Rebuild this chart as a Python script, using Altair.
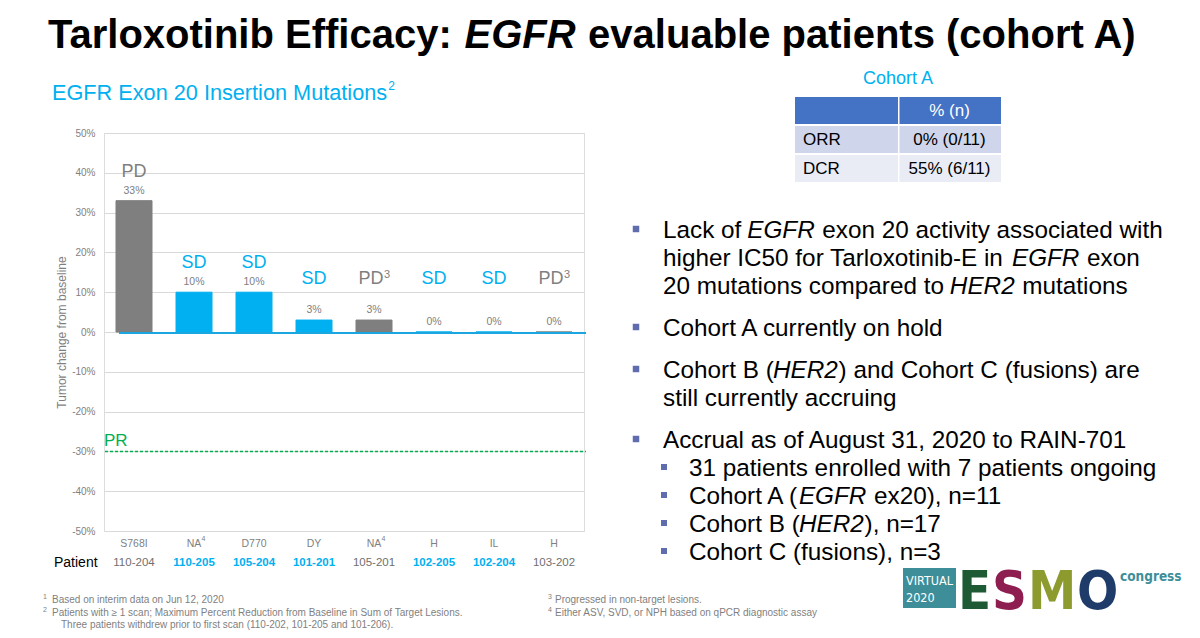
import altair as alt
import pandas as pd

# ---------------- chart data ----------------
mutations = ["S768I", "NA", "D770", "DY", "NA", "H", "IL", "H"]
mutation_notes = ["", "4", "", "", "4", "", "", ""]
patients = ["110-204", "110-205", "105-204", "101-201", "105-201", "102-205", "102-204", "103-202"]
tumor_change = [33, 10, 10, 3, 3, 0, 0, 0]
responses = ["PD", "SD", "SD", "SD", "PD", "SD", "SD", "PD"]
response_notes = ["", "", "", "", "3", "", "", "3"]
pr_threshold = [-30]
baseline_value = [0]
y_ticks = [-50, -40, -30, -20, -10, 0, 10, 20, 30, 40, 50]

# ---------------- slide text ----------------
title_text = "Tarloxotinib Efficacy: *EGFR* evaluable patients (cohort A)"
subtitle_text = "EGFR Exon 20 Insertion Mutations"
subtitle_note = "2"
y_title = "Tumor change from baseline"
x_row_label = "Patient"
pr_label = "PR"

table_title = "Cohort A"
table_header = "% (n)"
table_metrics = ["ORR", "DCR"]
table_values = ["0% (0/11)", "55% (6/11)"]

bullet_items = [
    (0, ["Lack of *EGFR* exon 20 activity associated with",
         "higher IC50 for Tarloxotinib-E in *EGFR* exon",
         "20 mutations compared to *HER2* mutations"]),
    (0, ["Cohort A currently on hold"]),
    (0, ["Cohort B (*HER2*) and Cohort C (fusions) are",
         "still currently accruing"]),
    (0, ["Accrual as of August 31, 2020 to RAIN-701"]),
    (1, ["31 patients enrolled with 7 patients ongoing"]),
    (1, ["Cohort A (*EGFR* ex20), n=11"]),
    (1, ["Cohort B (*HER2*), n=17"]),
    (1, ["Cohort C (fusions), n=3"]),
]

footnotes_left = [
    ("1", "Based on interim data on Jun 12, 2020"),
    ("2", "Patients with \u2265 1 scan; Maximum Percent Reduction from Baseline in Sum of Target Lesions."),
    ("", "Three patients withdrew prior to first scan (110-202, 101-205 and 101-206)."),
]
footnotes_right = [
    ("3", "Progressed in non-target lesions."),
    ("4", "Either ASV, SVD, or NPH based on qPCR diagnostic assay"),
]
logo_box_lines = ["VIRTUAL", "2020"]
logo_letters = ["E", "S", "M", "O"]
logo_word = "congress"

# ---------------- styling ----------------
FONT = "Liberation Sans, Arial, sans-serif"
COND = "DejaVu Sans Condensed, DejaVu Sans, sans-serif"
CYAN = "#00B0F0"
GRAY = "#7F7F7F"
GREEN = "#00B050"
BULLET = "#5F6DAE"
TEAL = "#3E8E9A"
LOGO_COLORS = ["#1E5B35", "#8E1D50", "#8C9A2E", "#1F3B6A"]

PAGE_MARGIN = 8
X0, Y0 = 104, 133          # plot origin in page pixels
W, H = 480, 398            # plot area
TOTAL_W, TOTAL_H = 1184, 622

# Helvetica / Arial advance widths (per 1000 em)
_CHARS = " !\"#$%&'()*+,-./0123456789:;<=>?@ABCDEFGHIJKLMNOPQRSTUVWXYZ[\\]^_`abcdefghijklmnopqrstuvwxyz{|}~"
_REG = dict(zip(_CHARS,
                [278, 278, 355, 556, 556, 889, 667, 191, 333, 333, 389, 584, 278, 333, 278, 278,
                 556, 556, 556, 556, 556, 556, 556, 556, 556, 556, 278, 278, 584, 584, 584, 556, 1015,
                 667, 667, 722, 722, 667, 611, 778, 722, 278, 500, 667, 556, 833, 722, 778, 667, 778, 722,
                 667, 611, 722, 667, 944, 667, 667, 611, 278, 278, 278, 469, 556, 333,
                 556, 556, 500, 556, 556, 278, 556, 556, 222, 222, 500, 222, 833, 556, 556, 556, 556, 333,
                 500, 278, 556, 500, 722, 500, 500, 500, 334, 260, 334, 584]))
_BOLD = dict(zip(_CHARS,
                 [278, 333, 474, 556, 556, 889, 722, 238, 333, 333, 389, 584, 278, 333, 278, 278,
                  556, 556, 556, 556, 556, 556, 556, 556, 556, 556, 333, 333, 584, 584, 584, 611, 975,
                  722, 722, 722, 722, 667, 611, 778, 722, 278, 556, 722, 611, 833, 722, 778, 667, 778, 722,
                  667, 611, 722, 667, 944, 667, 667, 611, 333, 278, 333, 584, 556, 333,
                  556, 611, 556, 611, 556, 333, 611, 611, 278, 278, 556, 278, 889, 611, 611, 611, 611, 389,
                  556, 333, 611, 556, 778, 556, 556, 500, 389, 280, 389, 584]))


def text_width(s, size, bold=False):
    table = _BOLD if bold else _REG
    return sum(table.get(ch, 584) for ch in s) * size / 1000.0


ONE = alt.Data(values=[{"k": 0}])
layers = []


def put_text(s, xi, yi, size, color, weight="normal", style="normal", align="left",
             baseline="middle", font=FONT, angle=0):
    layers.append(
        alt.Chart(ONE).mark_text(text=s, fontSize=size, color=color, fontWeight=weight,
                                 fontStyle=style, align=align, baseline=baseline, font=font,
                                 angle=angle)
        .encode(x=alt.value(xi - X0), y=alt.value(yi - Y0))
    )


def put_rect(x1, y1, x2, y2, color):
    layers.append(
        alt.Chart(ONE).mark_rect(color=color)
        .encode(x=alt.value(x1 - X0), x2=alt.value(x2 - X0),
                y=alt.value(y1 - Y0), y2=alt.value(y2 - Y0))
    )


def put_square(xi, yi, size, color):
    layers.append(
        alt.Chart(ONE).mark_square(size=size, color=color, opacity=1)
        .encode(x=alt.value(xi - X0), y=alt.value(yi - Y0))
    )


def rich_line(markup, xi, yi, size, color, bold=False):
    x = xi
    for i, seg in enumerate(markup.split("*")):
        italic = i % 2 == 1
        stripped = seg.strip()
        lead = len(seg) - len(seg.lstrip())
        if stripped:
            shift = -0.035 * size if italic else 0
            put_text(stripped, x + text_width(seg[:lead], size, bold) + shift, yi, size, color,
                     weight="bold" if bold else "normal",
                     style="italic" if italic else "normal")
        x += text_width(seg, size, bold)


# ---------------- main bar chart ----------------
df = pd.DataFrame({
    "patient": patients,
    "mutation": mutations,
    "mut_note": mutation_notes,
    "change": tumor_change,
    "response": responses,
    "resp_note": response_notes,
})

color_scale = alt.Scale(domain=["PD", "SD"], range=[GRAY, CYAN])
X = alt.X("patient:N", sort=patients, axis=None,
          scale=alt.Scale(paddingInner=0.4, paddingOuter=0.2))
Y_AXIS = alt.Axis(values=y_ticks, tickCount=11, labelOverlap=False,
                  labelExpr="datum.value + '%'", grid=True,
                  gridColor="#D9D9D9", gridWidth=1, domain=False, ticks=False,
                  labelColor=GRAY, labelFontSize=10, labelFont=FONT, labelPadding=9,
                  title=y_title, titleColor=GRAY, titleFontSize=12, titleFont=FONT,
                  titleFontWeight="normal", titlePadding=3)
Y_SCALE = alt.Scale(domain=[-50, 50], nice=False, zero=False)
Y = alt.Y("change:Q", scale=Y_SCALE, axis=Y_AXIS)

base = alt.Chart(df)

bars = base.mark_bar(strokeWidth=1).encode(
    x=X, y=Y, y2=alt.datum(0),
    color=alt.Color("response:N", scale=color_scale, legend=None),
    stroke=alt.Stroke("response:N", scale=color_scale, legend=None),
)

zero_line = alt.Chart(pd.DataFrame({"change": baseline_value})).mark_rule(
    color="#1AA7E0", strokeWidth=2, yOffset=1).encode(
    y=Y, x=alt.value(15), x2=alt.value(W + 2))

pr_line = alt.Chart(pd.DataFrame({"change": pr_threshold})).mark_rule(
    color=GREEN, strokeWidth=1.5, strokeDash=[3, 2]).encode(
    y=Y, x=alt.value(1), x2=alt.value(W + 2))

value_labels = base.transform_calculate(
    lab="format(datum.change, '.0f') + '%'"
).mark_text(dy=-10, baseline="middle", fontSize=10.5, color=GRAY, font=FONT).encode(
    x=X, y=Y, text="lab:N")

# response labels sit above the bar, but never lower than a common level
cat_base = base.transform_calculate(change="max(datum.change, 6)")
cat_plain = cat_base.transform_filter("datum.resp_note == ''").mark_text(
    dy=-29, baseline="middle", fontSize=18, font=FONT).encode(
    x=X, y=Y, text="response:N",
    color=alt.Color("response:N", scale=color_scale, legend=None))
cat_noted = cat_base.transform_filter("datum.resp_note != ''").mark_text(
    dy=-29, dx=-3, baseline="middle", fontSize=18, font=FONT).encode(
    x=X, y=Y, text="response:N",
    color=alt.Color("response:N", scale=color_scale, legend=None))
cat_sup = cat_base.transform_filter("datum.resp_note != ''").mark_text(
    dy=-33, dx=10, align="left", baseline="middle", fontSize=11, font=FONT).encode(
    x=X, y=Y, text="resp_note:N",
    color=alt.Color("response:N", scale=color_scale, legend=None))

mut_labels = base.mark_text(baseline="middle", fontSize=10.5, color=GRAY, font=FONT).encode(
    x=X, y=alt.value(544 - Y0), text="mutation:N")
mut_sup = base.transform_filter("datum.mut_note != ''").mark_text(
    baseline="middle", align="left", dx=7.5, fontSize=7, color=GRAY, font=FONT).encode(
    x=X, y=alt.value(539 - Y0), text="mut_note:N")
pid_sd = base.transform_filter("datum.response == 'SD'").mark_text(
    baseline="middle", fontSize=11.5, color=CYAN, font=FONT, fontWeight="bold").encode(
    x=X, y=alt.value(563 - Y0), text="patient:N")
pid_pd = base.transform_filter("datum.response != 'SD'").mark_text(
    baseline="middle", fontSize=11.5, color="#6F6F6F", font=FONT).encode(
    x=X, y=alt.value(563 - Y0), text="patient:N")

chart_layers = [bars, zero_line, pr_line, value_labels, cat_plain, cat_noted, cat_sup,
                mut_labels, mut_sup, pid_sd, pid_pd]

# ---------------- slide decorations ----------------
rich_line(title_text, 48, 36, 40, "black", bold=True)
put_text(subtitle_text, 52, 93, 21.7, CYAN)
put_text(subtitle_note, 52 + text_width(subtitle_text, 21.7) + 1, 86, 12, CYAN)
put_text(pr_label, 104, 441, 17, GREEN)
put_text(x_row_label, 54, 563, 14, "black")

# table
put_text(table_title, 898, 79, 18, CYAN, align="center")
tx1, tx2, tdiv = 795, 1001, 898
row_tops = [97, 126, 155]
row_h = 27
row_colors = ["#4472C4", "#CFD5EA", "#E9EBF5"]
for top, col in zip(row_tops, row_colors):
    put_rect(tx1, top, tdiv, top + row_h, col)
    put_rect(tdiv + 1.5, top, tx2, top + row_h, col)
put_text(table_header, (tdiv + tx2) / 2, row_tops[0] + row_h / 2, 17, "white", align="center")
for top, metric, val in zip(row_tops[1:], table_metrics, table_values):
    put_text(metric, 803, top + row_h / 2, 17, "black")
    put_text(val, (tdiv + tx2) / 2, top + row_h / 2, 17, "black", align="center")

# bullets
y = 231
first = True
for level, lines in bullet_items:
    if not first:
        y += 42 if level == 0 else 28
    first = False
    if level == 0:
        put_square(636, y - 2, 42, BULLET)
        tx = 663
    else:
        put_square(664, y - 2, 36, BULLET)
        tx = 689
    for j, ln in enumerate(lines):
        if j > 0:
            y += 28
        rich_line(ln, tx, y, 24.3, "black")

# footnotes
for i, (mark, txt) in enumerate(footnotes_left):
    yy = 600 + 12.5 * i
    if mark:
        put_text(mark, 43, yy - 3, 7, GRAY)
        put_text(txt, 52, yy, 10, GRAY)
    else:
        put_text(txt, 61, yy, 10, GRAY)
for i, (mark, txt) in enumerate(footnotes_right):
    yy = 600 + 12.5 * i
    put_text(mark, 548, yy - 3, 7, GRAY)
    put_text(txt, 555, yy, 10, GRAY)

# logo
put_rect(903, 568, 956, 608, TEAL)
put_text(logo_box_lines[0], 906, 581, 12.5, "white", font=COND)
put_text(logo_box_lines[1], 906, 598, 12.5, "white", font=COND)
letter_x = [958, 992, 1028, 1077]
for letter, col, lx in zip(logo_letters, LOGO_COLORS, letter_x):
    put_text(letter, lx, 609, 54, col, weight="bold", font=COND, baseline="alphabetic")
put_text(logo_word, 1120, 577, 13.5, TEAL, weight="bold", font=COND)

chart = alt.layer(*(chart_layers + layers)).properties(
    width=W, height=H,
    autosize=alt.AutoSizeParams(type="none"),
    padding={"left": X0 - PAGE_MARGIN, "top": Y0 - PAGE_MARGIN,
             "right": TOTAL_W - (X0 - PAGE_MARGIN) - W,
             "bottom": TOTAL_H - (Y0 - PAGE_MARGIN) - H},
).configure_view(strokeWidth=0).configure(background="white")

chart.save("out.html", embed_options={"renderer": "svg", "actions": False})
